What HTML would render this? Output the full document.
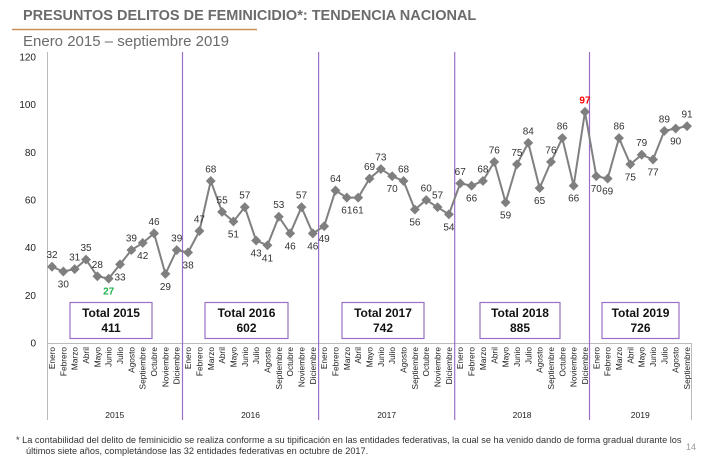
<!DOCTYPE html>
<html><head><meta charset="utf-8"><style>
body{margin:0;background:#fff;width:719px;height:469px;overflow:hidden;font-family:"Liberation Sans",sans-serif}
</style></head><body>
<svg width="719" height="469" xmlns="http://www.w3.org/2000/svg" font-family="Liberation Sans, sans-serif">
<text x="23" y="20" font-size="14.5" font-weight="bold" fill="#6b6b6b">PRESUNTOS DELITOS DE FEMINICIDIO*: TENDENCIA NACIONAL</text>
<line x1="12" y1="29.5" x2="257" y2="29.5" stroke="#c9905a" stroke-width="1.5"/>
<text x="23" y="46" font-size="15" fill="#6b6b6b">Enero 2015 – septiembre 2019</text>
<g id="chart"></g>
<text x="16" y="443" font-size="9.2" fill="#333">* La contabilidad del delito de feminicidio se realiza conforme a su tipificación en las entidades federativas, la cual se ha venido dando de forma gradual durante los</text>
<text x="26" y="454" font-size="9.2" fill="#333">últimos siete años, completándose las 32 entidades federativas en octubre de 2017.</text>
<text x="686" y="450" font-size="9" fill="#999">14</text>
</svg>
<script>
var d=[32,30,31,35,28,27,33,39,42,46,29,39,38,47,68,55,51,57,43,41,53,46,57,46,49,64,61,61,69,73,70,68,56,60,57,54,67,66,68,76,59,75,84,65,76,86,66,97,70,69,86,75,79,77,89,90,91];
var pos="abaaabbababa"+"baaababbabab"+"babbaababaab"+"abaabaabaaba"+"bbabababa";
var months=["Enero","Febrero","Marzo","Abril","Mayo","Junio","Julio","Agosto","Septiembre","Octubre","Noviembre","Diciembre"];
var X=function(i){return 52+i*11.34},Y=function(v){return 343-v*2.383};
var s='';
s+='<line x1="47.5" y1="52" x2="47.5" y2="420" stroke="#bbb"/>';
s+='<line x1="47" y1="343.5" x2="691" y2="343.5" stroke="#bbb"/>';
s+='<line x1="691.5" y1="343" x2="691.5" y2="420" stroke="#bbb"/>';
for(var t=0;t<=120;t+=20){s+='<text x="36" y="'+(Y(t)+3.5)+'" font-size="10" text-anchor="end" fill="#222">'+t+'</text>';}
var seps=[182.5,318.6,454.7,589.5];
seps.forEach(function(x){s+='<line x1="'+x+'" y1="52" x2="'+x+'" y2="420" stroke="#9b6fc9" stroke-width="1.2"/>';});
var yrs=["2015","2016","2017","2018","2019"],bx=[47,182.5,318.6,454.7,589.5,691];
for(var k=0;k<5;k++){s+='<text x="'+((bx[k]+bx[k+1])/2)+'" y="418" font-size="8.5" text-anchor="middle" fill="#222">'+yrs[k]+'</text>';}
var tot=[["Total 2015","411",70,152],["Total 2016","602",205,288],["Total 2017","742",342,424],["Total 2018","885",480,560],["Total 2019","726",602,679]];
tot.forEach(function(b){s+='<rect x="'+b[2]+'" y="302.5" width="'+(b[3]-b[2])+'" height="36" fill="#fff" stroke="#9b6fc9" stroke-width="1.2"/>';
var cx=(b[2]+b[3])/2;s+='<text x="'+cx+'" y="317" font-size="12" font-weight="bold" text-anchor="middle" fill="#111">'+b[0]+'</text><text x="'+cx+'" y="332" font-size="12" font-weight="bold" text-anchor="middle" fill="#111">'+b[1]+'</text>';});
var pts=d.map(function(v,i){return X(i)+','+Y(v)}).join(' ');
s+='<polyline points="'+pts+'" fill="none" stroke="#808080" stroke-width="2"/>';
d.forEach(function(v,i){var x=X(i),y=Y(v);
s+='<rect x="'+(x-3.5)+'" y="'+(y-3.5)+'" width="7" height="7" fill="#7f7f7f" transform="rotate(45 '+x+' '+y+')"/>';
var a=pos[i]=='a';var col=v==27&&i==5?'#22b14c':(v==97?'#ff0000':'#333');var fw=((v==27&&i==5)||v==97)?'bold':'normal';
s+='<text x="'+x+'" y="'+(a?y-8.5:y+16)+'" font-size="10" font-weight="'+fw+'" text-anchor="middle" fill="'+col+'">'+v+'</text>';
var m=months[i%12];
s+='<text transform="translate('+(x+3)+',347) rotate(-90)" font-size="8.3" text-anchor="end" fill="#222">'+m+'</text>';
});
document.getElementById('chart').innerHTML=s;
</script>
</body></html>
